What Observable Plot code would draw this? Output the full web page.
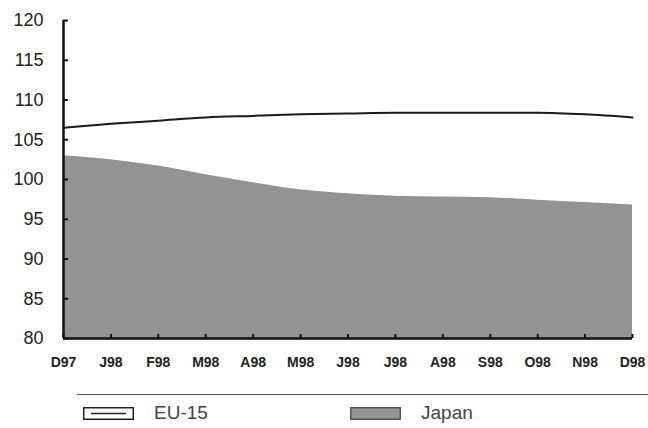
<!DOCTYPE html>
<html>
<head>
<meta charset="utf-8">
<script src="https://cdn.jsdelivr.net/npm/d3@7"></script>
<script src="https://cdn.jsdelivr.net/npm/@observablehq/plot@0.6"></script>
<style>
  body { margin: 0; background: #fff; font-family: "Liberation Sans", Arial, sans-serif; }
  #wrap { position: relative; width: 648px; height: 428px; }
  #legend-line { position: absolute; left: 77px; top: 394px; width: 571px; height: 0; border-top: 1.5px solid #555; }
  .leg { position: absolute; top: 402px; font-size: 19px; color: #444; display: flex; align-items: center; }
  .leg svg { margin-right: 20px; }
</style>
</head>
<body>
<div id="wrap">
  <div id="chart"></div>
  <div id="legend-line"></div>
  <div class="leg" style="left:83px">
    <svg width="51" height="13"><rect x="0.75" y="0.75" width="49.5" height="11.5" fill="#fff" stroke="#222" stroke-width="1.5"/><line x1="8" x2="43" y1="6.5" y2="6.5" stroke="#222" stroke-width="1.5"/></svg>EU-15
  </div>
  <div class="leg" style="left:350px">
    <svg width="51" height="13"><rect x="0.75" y="0.75" width="49.5" height="11.5" fill="#959595" stroke="#555" stroke-width="1.5"/></svg>Japan
  </div>
</div>
<script>
const months = ["D97","J98","F98","M98","A98","M98","J98","J98","A98","S98","O98","N98","D98"];
const eu15 = [106.5, 107.0, 107.4, 107.8, 108.0, 108.2, 108.3, 108.4, 108.4, 108.4, 108.4, 108.2, 107.8];
const japan = [103.0, 102.5, 101.7, 100.6, 99.6, 98.7, 98.2, 97.9, 97.8, 97.7, 97.4, 97.1, 96.8];
const yTicks = [80, 85, 90, 95, 100, 105, 110, 115, 120];

const data = months.map((m, i) => ({i, m, eu: eu15[i], jp: japan[i]}));
const idx = months.map((_, i) => i);

const chart = Plot.plot({
  width: 648,
  height: 380,
  marginLeft: 63,
  marginRight: 16,
  marginTop: 20,
  marginBottom: 42,
  style: {background: "transparent", fontFamily: "'Liberation Sans', Arial, sans-serif", color: "#222"},
  x: {domain: [0, 12]},
  y: {domain: [80, 120]},
  marks: [
    Plot.areaY(data, {x: "i", y1: 80, y2: "jp", fill: "#939393", curve: "monotone-x"}),
    Plot.lineY(data, {x: "i", y: "eu", stroke: "#1a1a1a", strokeWidth: 2, curve: "monotone-x"}),
    Plot.axisY({ticks: yTicks, tickSize: 5, dx: 5, strokeWidth: 2, stroke: "#111", text: null, label: null}),
    Plot.axisY({ticks: yTicks, tickSize: 0, tickPadding: 20, fontSize: 18, label: null}),
    Plot.axisX({ticks: idx, tickSize: 4, dy: -4, strokeWidth: 2, stroke: "#111", text: null, label: null}),
    Plot.axisX({ticks: idx, tickSize: 0, tickPadding: 19, tickFormat: i => months[i], fontSize: 14, fontWeight: "bold", label: null}),
    Plot.ruleX([0], {stroke: "#111", strokeWidth: 2.5}),
    Plot.ruleY([80], {stroke: "#111", strokeWidth: 2.5})
  ]
});
document.getElementById("chart").appendChild(chart);
</script>
</body>
</html>
